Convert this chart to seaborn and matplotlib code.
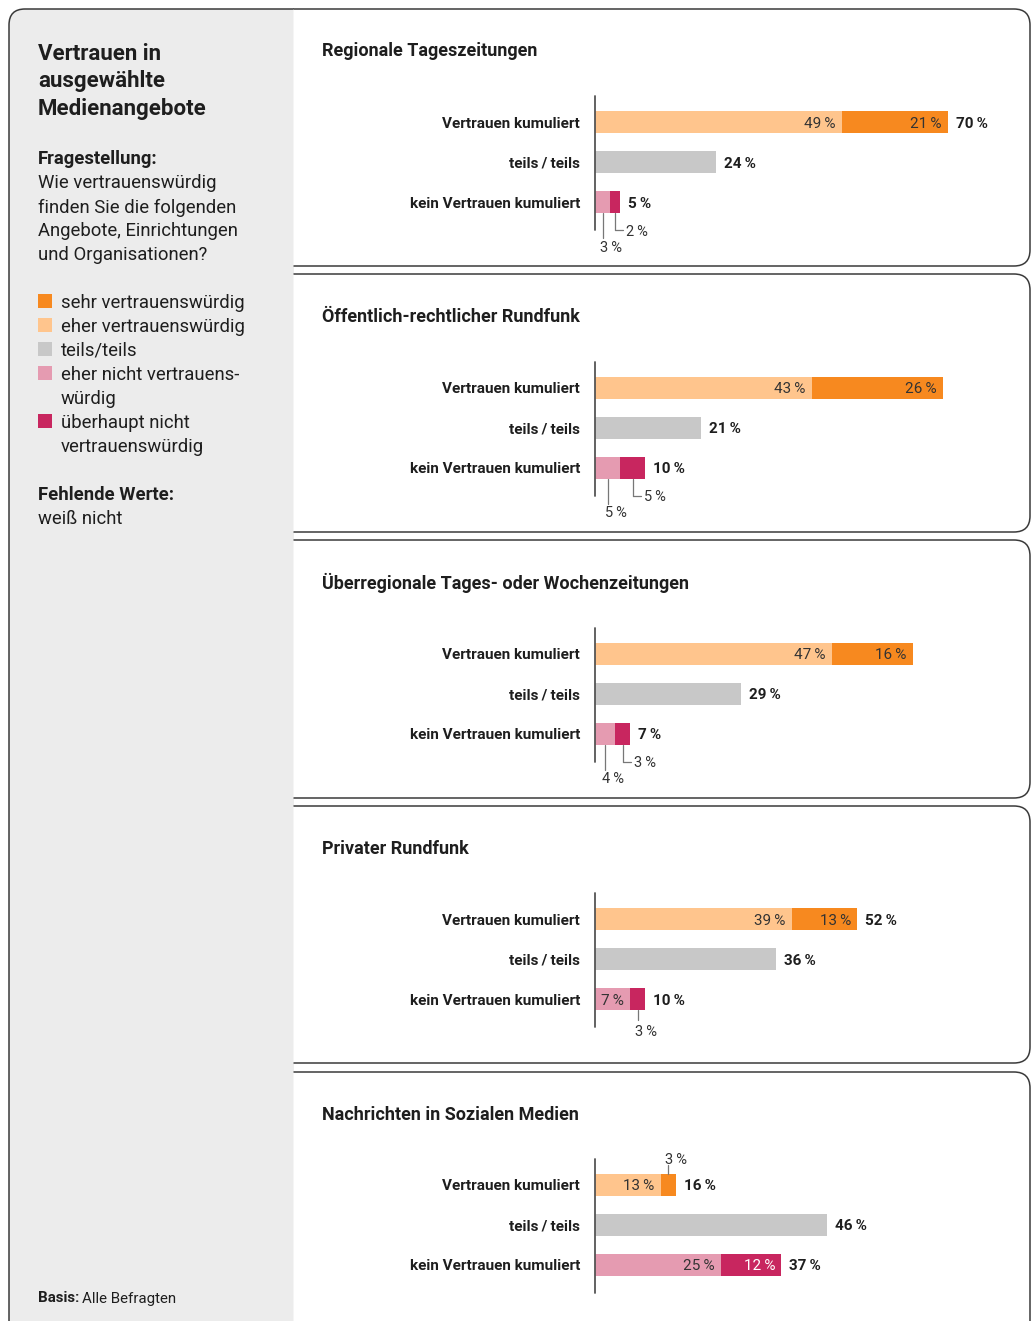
import matplotlib
matplotlib.use("Agg")
import matplotlib.pyplot as plt
import seaborn as sns
import pandas as pd
from matplotlib.path import Path
from matplotlib.patches import PathPatch, Rectangle, FancyBboxPatch

sns.set_theme(style="white")
plt.rcParams["font.family"] = ["Roboto", "DejaVu Sans"]

# ---------------- data ----------------
panel_titles = [
    "Regionale Tageszeitungen",
    "Öffentlich-rechtlicher Rundfunk",
    "Überregionale Tages- oder Wochenzeitungen",
    "Privater Rundfunk",
    "Nachrichten in Sozialen Medien",
]
row_names = ["Vertrauen kumuliert", "teils\u2009/\u2009teils", "kein Vertrauen kumuliert"]

eher_vertrauen = [49, 43, 47, 39, 13]
sehr_vertrauen = [21, 26, 16, 13, 3]
teils_teils = [24, 21, 29, 36, 46]
eher_nicht = [3, 5, 4, 7, 25]
ueberhaupt_nicht = [2, 5, 3, 3, 12]
show_vertrauen_total = [True, False, False, True, True]

legend_labels = [
    ["sehr vertrauenswürdig"],
    ["eher vertrauenswürdig"],
    ["teils/teils"],
    ["eher nicht vertrauens-", "würdig"],
    ["überhaupt nicht", "vertrauenswürdig"],
]

# ---------------- styling ----------------
C_SEHR = "#F7891F"
C_EHER = "#FFC58D"
C_TEILS = "#C8C8C8"
C_NICHT = "#E59BB1"
C_UEBER = "#C8265F"
legend_colors = [C_SEHR, C_EHER, C_TEILS, C_NICHT, C_UEBER]
TXT = "#1e1e1e"
LINE = "#3a3a3a"
YO = 1.5  # baseline nudge for vertically centred text

W, H = 1032, 1321
fig = plt.figure(figsize=(W / 100, H / 100), dpi=100)
fig.patch.set_facecolor("white")

# background canvas in pixel coordinates
bg = fig.add_axes([0, 0, 1, 1])
bg.set_xlim(0, W)
bg.set_ylim(H, 0)
bg.axis("off")

bg.add_patch(FancyBboxPatch((9, 9), 330, 1340, boxstyle="round,pad=0,rounding_size=16",
                            facecolor="#ececec", edgecolor=LINE, lw=1.1))
bg.add_patch(Rectangle((293.5, 0), W - 293.5, H, facecolor="white", edgecolor="none"))

PANEL_STEP = 265.75
box_bounds = [(9, 266), (274, 532), (540, 798), (806, 1063), (1072, 1345)]
L, R, rad = 293.5, 1030, 16
for top, bot in box_bounds:
    verts = [(L, top), (R - rad, top), (R, top), (R, top + rad), (R, bot - rad),
             (R, bot), (R - rad, bot), (L, bot)]
    codes = [Path.MOVETO, Path.LINETO, Path.CURVE3, Path.CURVE3, Path.LINETO,
             Path.CURVE3, Path.CURVE3, Path.LINETO]
    bg.add_patch(PathPatch(Path(verts, codes), facecolor="white", edgecolor=LINE, lw=1.1))

# ---------------- left column ----------------
for i, line in enumerate(["Vertrauen in", "ausgewählte", "Medienangebote"]):
    bg.text(38, 52 + YO + 28 * i, line, fontsize=16, fontweight="bold", color=TXT, va="center")
bg.text(38, 158 + YO, "Fragestellung:", fontsize=13.3, fontweight="bold", color=TXT, va="center")
for i, line in enumerate(["Wie vertrauenswürdig", "finden Sie die folgenden",
                          "Angebote, Einrichtungen", "und Organisationen?"]):
    bg.text(38, 182 + YO + 24 * i, line, fontsize=13.3, color=TXT, va="center")

ly = 301
for col, lines in zip(legend_colors, legend_labels):
    bg.add_patch(Rectangle((38, ly - 7), 14, 14, facecolor=col, edgecolor="none"))
    for ln in lines:
        bg.text(61, ly + YO, ln, fontsize=13.3, color=TXT, va="center")
        ly += 24

bg.text(38, 494 + YO, "Fehlende Werte:", fontsize=13.3, fontweight="bold", color=TXT, va="center")
bg.text(38, 518 + YO, "weiß nicht", fontsize=13.3, color=TXT, va="center")

t_basis = bg.text(38, 1297 + YO, "Basis:", fontsize=10.8, fontweight="bold", color=TXT, va="center")
bg.annotate("Alle Befragten", xy=(1, 0.5), xycoords=t_basis, xytext=(3, 0),
            textcoords="offset pixels", fontsize=10.8, color=TXT, va="center", ha="left")

# ---------------- bar panels ----------------
PX_X = 5.04   # pixels per percentage point
PX_Y = 40.0   # pixels per row
X0 = 595
XMAX = 80
FS_VAL = 11


def pct(v):
    return f"{v}\u2009%"


def callout(ax, x, row, dist_line, dist_label, up=False, elbow=False):
    s = -1 if up else 1
    y_edge = row + s * 0.275
    y_end = row + s * dist_line / PX_Y
    ax.plot([x, x], [y_edge, y_end], color="#777777", lw=0.9, clip_on=False, zorder=5)
    if elbow:
        ax.plot([x, x + 8 / PX_X], [y_end, y_end], color="#777777", lw=0.9,
                clip_on=False, zorder=5)
        return (x + 11 / PX_X, y_end), "left"
    return (x - 3 / PX_X, row + s * dist_label / PX_Y), "left"


for k in range(5):
    dy = PANEL_STEP * k
    bg.text(322, 50 + YO + dy, panel_titles[k], fontsize=13, fontweight="bold", color=TXT,
            va="center")
    for j, name in enumerate(row_names):
        bg.text(580, 122 + YO + dy + 40 * j, name, fontsize=11, fontweight="bold",
                color=TXT, va="center", ha="right")

    top_px = 102 + dy
    ax = fig.add_axes([X0 / W, 1 - (top_px + 120) / H, XMAX * PX_X / W, 120 / H])
    ax.set_facecolor("none")

    e, s_, t, n, u = (eher_vertrauen[k], sehr_vertrauen[k], teils_teils[k],
                      eher_nicht[k], ueberhaupt_nicht[k])
    df = pd.DataFrame({"row": row_names, "total": [e + s_, t, n + u], "first": [e, t, n]})

    sns.barplot(df, x="total", y="row", hue="row", orient="h", width=0.55, linewidth=0,
                saturation=1, palette=dict(zip(row_names, [C_SEHR, C_TEILS, C_UEBER])),
                errorbar=None, legend=False, ax=ax)
    sns.barplot(df, x="first", y="row", hue="row", orient="h", width=0.55, linewidth=0,
                saturation=1, palette=dict(zip(row_names, [C_EHER, C_TEILS, C_NICHT])),
                errorbar=None, legend=False, ax=ax)

    ax.set_xlim(0, XMAX)
    ax.set_ylim(2.5, -0.5)
    ax.axis("off")
    ax.plot([0, 0], [-0.65, 2.7], color="#555555", lw=1.3, clip_on=False, zorder=6)

    # segment labels
    seg_rows = [(0, [(e, C_EHER), (s_, C_SEHR)]), (2, [(n, C_NICHT), (u, C_UEBER)])]
    for row, segs in seg_rows:
        small = [v < 6 for v, _ in segs]
        start = 0
        for idx, (v, col) in enumerate(segs):
            end = start + v
            if not small[idx]:
                tc = "white" if col == C_UEBER else "#333333"
                ax.annotate(pct(v), xy=(end, row), xytext=(-6, -YO), textcoords="offset pixels",
                            ha="right", va="center", fontsize=FS_VAL, color=tc,
                            annotation_clip=False)
            else:
                xc = (start + end) / 2
                up = row == 0
                if all(small):
                    if idx == 0:
                        pos, ha = callout(ax, xc, row, 36, 44, up=up)
                    else:
                        pos, ha = callout(ax, xc, row, 28, 28, up=up, elbow=True)
                elif up:
                    pos, ha = callout(ax, xc, row, 20, 27, up=up)
                else:
                    pos, ha = callout(ax, xc, row, 21, 31, up=up)
                ax.annotate(pct(v), xy=pos, xytext=(0, -YO), textcoords="offset pixels",
                            ha=ha, va="center", fontsize=FS_VAL - 0.5, color="#333333",
                            annotation_clip=False)
            start = end

    totals = [(0, e + s_, show_vertrauen_total[k]), (1, t, True), (2, n + u, True)]
    for row, v, show in totals:
        if show:
            ax.annotate(pct(v), xy=(v, row), xytext=(8, -YO), textcoords="offset pixels",
                        ha="left", va="center", fontsize=FS_VAL, fontweight="bold", color=TXT,
                        annotation_clip=False)

fig.savefig("out.png", dpi=100, facecolor="white")
